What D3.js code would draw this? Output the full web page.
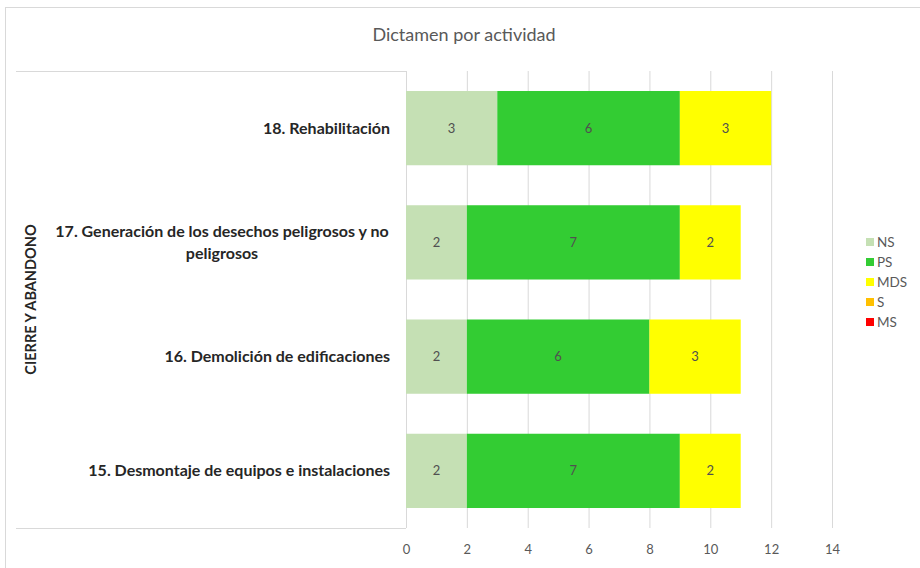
<!DOCTYPE html>
<html>
<head>
<meta charset="utf-8">
<script src="https://cdn.jsdelivr.net/npm/d3@7/dist/d3.min.js"></script>
<style>
  html, body { margin: 0; padding: 0; background: #fff; }
  svg { display: block; font-family: Lato, "Open Sans", sans-serif; }
</style>
</head>
<body>
<svg id="chart" width="920" height="568"></svg>
<script>
// Activities of the closing phase, listed top to bottom
const categories = [
  "18. Rehabilitación",
  "17. Generación de los desechos peligrosos y no peligrosos",
  "16. Demolición de edificaciones",
  "15. Desmontaje de equipos e instalaciones"
];
const groupLabel = "CIERRE Y ABANDONO";
const seriesNames = ["NS", "PS", "MDS", "S", "MS"];
const seriesColors = ["#c5e0b4", "#33cc33", "#ffff00", "#ffc000", "#ff0000"];
const valuesNS  = [3, 2, 2, 2];
const valuesPS  = [6, 7, 6, 7];
const valuesMDS = [3, 2, 3, 2];
const valuesS   = [0, 0, 0, 0];
const valuesMS  = [0, 0, 0, 0];
const xTicks = [0, 2, 4, 6, 8, 10, 12, 14];
const title = "Dictamen por actividad";

const rows = categories.map((c, i) => ({
  cat: c, NS: valuesNS[i], PS: valuesPS[i], MDS: valuesMDS[i], S: valuesS[i], MS: valuesMS[i]
}));

const svg = d3.select("#chart");

// chart frame
svg.append("rect")
  .attr("x", 5.5).attr("y", 7.5).attr("width", 930).attr("height", 580)
  .attr("fill", "#fff").attr("stroke", "#d9d9d9");

const plot = { left: 406, right: 832, top: 71, bottom: 528 };

const x = d3.scaleLinear().domain([0, 14]).range([plot.left, plot.right]);
const y = d3.scaleBand().domain(categories).range([plot.top, plot.bottom]).paddingInner(0.35).paddingOuter(0.175);

// title
svg.append("text")
  .attr("x", 464).attr("y", 41)
  .attr("text-anchor", "middle")
  .attr("font-size", 18).attr("fill", "#595959")
  .text(title);

// vertical gridlines
svg.append("g")
  .selectAll("line")
  .data(xTicks)
  .join("line")
  .attr("x1", d => x(d) + 0.5).attr("x2", d => x(d) + 0.5)
  .attr("y1", plot.top).attr("y2", plot.bottom)
  .attr("stroke", "#d9d9d9").attr("stroke-width", 1);

// x axis labels
const xAxis = d3.axisBottom(x).tickValues(xTicks).tickSize(0).tickPadding(0);
const gx = svg.append("g")
  .attr("transform", `translate(0, ${plot.bottom + 17})`)
  .call(xAxis);
gx.select(".domain").remove();
gx.selectAll("text")
  .attr("font-family", "Lato, sans-serif")
  .attr("font-size", 13).attr("fill", "#595959");

// multi-level category axis frame
const axisFrame = svg.append("g").attr("stroke", "#d9d9d9").attr("fill", "none");
axisFrame.append("line").attr("x1", 16).attr("x2", plot.left).attr("y1", plot.top + 0.5).attr("y2", plot.top + 0.5);
axisFrame.append("line").attr("x1", 16).attr("x2", plot.left).attr("y1", plot.bottom + 0.5).attr("y2", plot.bottom + 0.5);
axisFrame.append("line").attr("x1", plot.left + 0.5).attr("x2", plot.left + 0.5).attr("y1", plot.top).attr("y2", plot.bottom);

// stacked bars
const stack = d3.stack().keys(seriesNames);
const stacked = stack(rows);
const color = d3.scaleOrdinal().domain(seriesNames).range(seriesColors);

const layers = svg.append("g").selectAll("g")
  .data(stacked)
  .join("g")
  .attr("fill", d => color(d.key));

layers.selectAll("rect")
  .data(d => d.map(p => ({ key: d.key, p })))
  .join("rect")
  .attr("x", d => x(d.p[0]))
  .attr("y", d => y(d.p.data.cat))
  .attr("width", d => x(d.p[1]) - x(d.p[0]))
  .attr("height", y.bandwidth());

// value labels
layers.selectAll("text")
  .data(d => d.map(p => ({ key: d.key, p })).filter(v => v.p[1] - v.p[0] > 0))
  .join("text")
  .attr("x", d => (x(d.p[0]) + x(d.p[1])) / 2)
  .attr("y", d => y(d.p.data.cat) + y.bandwidth() / 2)
  .attr("dy", "0.35em")
  .attr("text-anchor", "middle")
  .attr("font-size", 13)
  .attr("fill", "#505050")
  .text(d => d.p[1] - d.p[0]);

// category labels (wrapped where long)
const catLines = {
  "17. Generación de los desechos peligrosos y no peligrosos": ["17. Generación de los desechos peligrosos y no", "peligrosos"]
};
const labelG = svg.append("g");
categories.forEach(c => {
  const lines = catLines[c] || [c];
  const cy = y(c) + y.bandwidth() / 2;
  const t = labelG.append("text")
    .attr("font-size", 16).attr("font-weight", "bold").attr("fill", "#262626")
    .attr("text-anchor", lines.length > 1 ? "middle" : "end");
  const lx = lines.length > 1 ? 222 : 390;
  lines.forEach((ln, i) => {
    t.append("tspan")
      .attr("x", lx)
      .attr("y", cy + (i - (lines.length - 1) / 2) * 22)
      .attr("dy", "0.35em")
      .text(ln);
  });
});

// group label
svg.append("text")
  .attr("transform", `translate(31, ${(plot.top + plot.bottom) / 2}) rotate(-90)`)
  .attr("text-anchor", "middle")
  .attr("dy", "0.35em")
  .attr("font-size", 14.5).attr("font-weight", "bold").attr("fill", "#262626")
  .text(groupLabel);

// legend
const legend = svg.append("g").attr("transform", "translate(866, 242)");
const item = legend.selectAll("g").data(seriesNames).join("g")
  .attr("transform", (d, i) => `translate(0, ${i * 20})`);
item.append("rect")
  .attr("x", 0).attr("y", -4).attr("width", 8).attr("height", 8)
  .attr("fill", d => color(d));
item.append("text")
  .attr("x", 11).attr("y", 0).attr("dy", "0.35em")
  .attr("font-size", 13.5).attr("fill", "#595959")
  .text(d => d);
</script>
</body>
</html>
